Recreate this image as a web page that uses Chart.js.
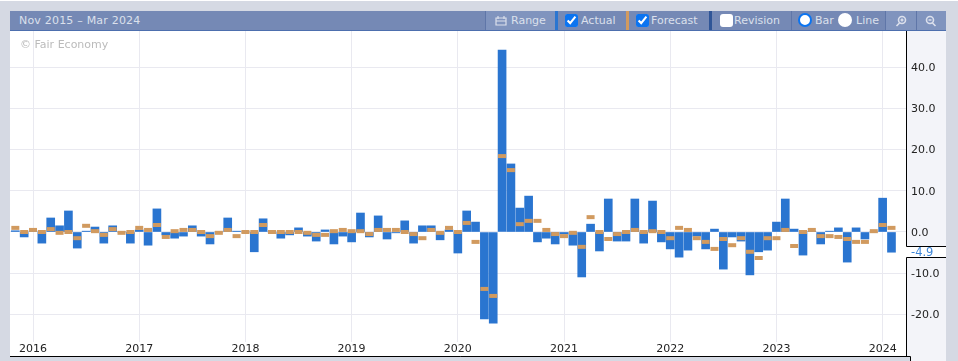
<!DOCTYPE html>
<html>
<head>
<meta charset="utf-8">
<script src="https://cdn.jsdelivr.net/npm/chart.js@4"></script>
<style>
    html, body { margin: 0; padding: 0; background: #d5d9e3; overflow: hidden; }
    body { width: 958px; height: 361px; position: relative; font-family: "DejaVu Sans", sans-serif; }
    #topline { position: absolute; left: 0; top: 0; width: 958px; height: 1px; background: #fff; }
    #header { position: absolute; left: 10px; top: 11px; width: 936px; height: 19px; background: #7589b5; border-bottom: 1px solid #4d6fae; color: #dbe0ec; font-size: 11px; }
    #header span, #header input, #header svg, #header i, #header b { position: absolute; }
    #header span { top: 3px; white-space: nowrap; }
    #header i { top: 0; height: 19px; width: 1px; background: #5f76a8; }
    #header b { top: 0; height: 19px; background: #8094be; }
    #header input { margin: 0; top: 3px; width: 13px; height: 13px; accent-color: #0b74f0; }
    #header input.off { appearance: none; background: #fff; border-radius: 3px; }
    #header input.dot { appearance: none; box-sizing: border-box; width: 14px; height: 14px; top: 2px; background: #fff; border: 2.5px solid #0b74f0; border-radius: 50%; }
    #header input.nodot { appearance: none; width: 14px; height: 14px; top: 2px; background: #fff; border-radius: 50%; }
    #wrap { position: absolute; left: 10px; top: 31px; width: 936px; height: 330px; }
    #chart { display: block; }
    #price { position: absolute; left: 911px; top: 245px; color: #3f86d8; font-size: 11.5px; }
    #copy { position: absolute; left: 20px; top: 38px; color: #bbb; font-size: 11px; }
</style>
</head>
<body>
<div id="topline"></div>
<div id="header">
    <span style="left:9px;letter-spacing:.2px">Nov 2015 – Mar 2024</span>
    <b style="left:475px;width:70px"></b>
    <svg style="left:485px;top:4px" width="12" height="11" viewBox="0 0 12 11"><path d="M1 3h10v7H1zM1 6h10M3 1v3M9 1v3" fill="none" stroke="#dbe0ec" stroke-width="1.2"/></svg>
    <span style="left:501px">Range</span>
    <i style="left:475px"></i>
    <i style="left:545px;width:3px;background:#2a75d0"></i>
    <input type="checkbox" checked style="left:555px">
    <span style="left:571px">Actual</span>
    <i style="left:616px;width:3px;background:#d19a5f"></i>
    <input type="checkbox" checked style="left:626px">
    <span style="left:641px">Forecast</span>
    <i style="left:699px;width:3px;background:#2f5597"></i>
    <input type="checkbox" class="off" style="left:710px">
    <span style="left:724px">Revision</span>
    <i style="left:781px"></i>
    <input type="radio" name="t" class="dot" checked style="left:788px">
    <span style="left:805px">Bar</span>
    <input type="radio" name="t" class="nodot" style="left:828px">
    <span style="left:846px">Line</span>
    <b style="left:875px;width:61px"></b>
    <i style="left:875px"></i>
    <i style="left:906px"></i>
    <svg style="left:885px;top:4px" width="12" height="12" viewBox="0 0 12 12"><circle cx="7" cy="5" r="3.5" fill="none" stroke="#dbe0ec" stroke-width="1.6"/><path d="M4.5 8L1.5 11M5.5 5h3M7 3.5v3" stroke="#dbe0ec" stroke-width="1.6"/></svg>
    <svg style="left:915px;top:4px" width="12" height="12" viewBox="0 0 12 12"><circle cx="5" cy="5" r="3.5" fill="none" stroke="#dbe0ec" stroke-width="1.6"/><path d="M7.5 8l3 3M3.5 5h3" stroke="#dbe0ec" stroke-width="1.6"/></svg>
</div>
<div id="wrap"><canvas id="chart" width="936" height="330"></canvas></div>
<div id="copy">© Fair Economy</div>
<div id="price">-4.9</div>
<script>
// months counted from Nov 2015, one bar per month
const months = [
    "Nov 2015", "Dec 2015",
    "Jan 2016", "Feb 2016", "Mar 2016", "Apr 2016", "May 2016", "Jun 2016", "Jul 2016", "Aug 2016", "Sep 2016", "Oct 2016", "Nov 2016", "Dec 2016",
    "Jan 2017", "Feb 2017", "Mar 2017", "Apr 2017", "May 2017", "Jun 2017", "Jul 2017", "Aug 2017", "Sep 2017", "Oct 2017", "Nov 2017", "Dec 2017",
    "Jan 2018", "Feb 2018", "Mar 2018", "Apr 2018", "May 2018", "Jun 2018", "Jul 2018", "Aug 2018", "Sep 2018", "Oct 2018", "Nov 2018", "Dec 2018",
    "Jan 2019", "Feb 2019", "Mar 2019", "Apr 2019", "May 2019", "Jun 2019", "Jul 2019", "Aug 2019", "Sep 2019", "Oct 2019", "Nov 2019", "Dec 2019",
    "Jan 2020", "Feb 2020", "Mar 2020", "Apr 2020", "May 2020", "Jun 2020", "Jul 2020", "Aug 2020", "Sep 2020", "Oct 2020", "Nov 2020", "Dec 2020",
    "Jan 2021", "Feb 2021", "Mar 2021", "Apr 2021", "May 2021", "Jun 2021", "Jul 2021", "Aug 2021", "Sep 2021", "Oct 2021", "Nov 2021", "Dec 2021",
    "Jan 2022", "Feb 2022", "Mar 2022", "Apr 2022", "May 2022", "Jun 2022", "Jul 2022", "Aug 2022", "Sep 2022", "Oct 2022", "Nov 2022", "Dec 2022",
    "Jan 2023", "Feb 2023", "Mar 2023", "Apr 2023", "May 2023", "Jun 2023", "Jul 2023", "Aug 2023", "Sep 2023", "Oct 2023", "Nov 2023", "Dec 2023",
    "Jan 2024", "Feb 2024"
];
const actual = [
    0.3, -1.2, 0.2, -2.7, 3.4, 1.5, 5.1, -3.9, 0.2, 1.2, -2.7, 1.5, 0.0, -2.7, 0.5, -3.2, 5.6, -0.7, -1.5, -1.0,
    1.5, -1.0, -2.9, 0.0, 3.4, 0.2, 0.0, -4.8, 3.2, 0.0, -1.5, -0.7, 1.0, -1.0, -2.2, 0.5, -2.9, -1.0, -2.4, 4.6,
    -1.2, 3.9, -1.7, -0.2, 2.7, -2.7, 1.5, 1.5, -1.9, 0.5, -5.1, 5.1, 2.4, -21.1, -22.1, 44.1, 16.5, 5.8, 8.7, -2.4,
    -1.5, -2.9, -0.5, -3.2, -10.9, 1.9, -4.6, 8.0, -2.2, -2.2, 8.0, -2.7, 7.5, -2.4, -4.1, -6.1, -4.4, -1.0, -4.1, 0.7,
    -9.0, -1.2, -2.2, -10.4, -4.8, -4.4, 2.4, 8.0, 0.7, -5.6, 0.2, -2.9, 0.2, 1.0, -7.3, 1.0, -1.7, 0.0, 8.2, -4.9
];
const forecast = [
    1.0, 0.0, 0.5, 0.0, 0.7, -0.2, 0.0, -1.5, 1.5, 0.2, -0.7, 0.7, -0.2, 0.0, 1.0, 0.5, 1.7, -1.2, 0.2, 0.5,
    0.5, 0.0, -1.0, -0.2, 0.5, -1.0, 0.0, 0.0, 1.7, 0.0, 0.0, 0.0, 0.0, -0.2, -0.7, -0.7, 0.2, 0.5, 0.2, 0.2,
    -0.5, 0.5, 0.5, 0.5, 0.0, -0.5, -1.5, 0.5, -0.2, 1.0, 0.0, 2.2, -2.4, -13.8, -15.5, 18.4, 15.0, 1.9, 2.7, 2.7,
    0.5, -0.5, -1.0, -0.2, -3.6, 3.6, 0.0, -1.7, -0.5, 0.0, 0.5, 0.0, 0.2, 0.0, -1.5, 1.0, 0.5, -1.5, -2.4, -4.1,
    -1.7, -3.2, -1.5, -4.8, -6.3, -1.5, -1.5, 0.5, -3.4, 0.0, 0.5, -1.0, -1.0, -1.2, -1.7, -2.4, -2.4, 0.2, 1.7, 1.0
];
const yTicks = [-20, -10, 0, 10, 20, 30, 40];
const yearLabels = ["Jan 2016", "Jan 2017", "Jan 2018", "Jan 2019", "Jan 2020", "Jan 2021", "Jan 2022", "Jan 2023", "Jan 2024"];

const colorActual = "#2a75d0";
const colorForecast = "#d19a5f";
const gridColor = "#e9e9f0";

// white plot and the pale price panel behind the right axis
const panels = {
    id: "panels",
    beforeDraw(chart) {
        const c = chart.ctx, right = chart.chartArea.right, h = chart.height;
        const w = 40, base = 325;
        c.save();
        c.fillStyle = "#fff";
        c.fillRect(0, 0, right, base);
        c.fillRect(right, 215, w, 11);
        c.fillStyle = "#f3f4f9";
        c.fillRect(right, 0, w, 215);
        c.fillRect(right, 226, w, base - 226);
        c.fillRect(right + 4, base, w - 4, h - base);
        c.strokeStyle = "#000";
        c.lineWidth = 1;
        c.beginPath();
        c.moveTo(right + 0.5, 0);
        c.lineTo(right + 0.5, 215.5);
        c.lineTo(right + w, 215.5);
        c.moveTo(right + w, 226.5);
        c.lineTo(right + 0.5, 226.5);
        c.lineTo(right + 0.5, base);
        c.moveTo(0, base + 0.5);
        c.lineTo(right + 4.5, base + 0.5);
        c.lineTo(right + 4.5, h);
        c.stroke();
        c.restore();
    }
};

new Chart(document.getElementById("chart"), {
    type: "bar",
    data: {
        datasets: [
            {
                type: "line",
                label: "Forecast",
                data: forecast.map((v, i) => ({ x: i, y: v })),
                showLine: false,
                pointStyle: "line",
                pointRadius: 4,
                pointHoverRadius: 4,
                pointBorderWidth: 4,
                pointBorderColor: colorForecast,
                order: 0,
            },
            {
                label: "Actual",
                data: actual.map((v, i) => ({ x: i, y: v })),
                backgroundColor: colorActual,
                barThickness: 8,
                order: 1,
            },
        ]
    },
    plugins: [panels],
    options: {
        responsive: false,
        animation: false,
        events: [],
        layout: { autoPadding: false },
        plugins: { legend: { display: false }, tooltip: { enabled: false } },
        scales: {
            x: {
                type: "linear",
                offset: false,
                min: -0.6,
                max: 100.64,
                grid: { color: gridColor, lineWidth: 1, drawTicks: false, offset: false },
                border: { display: false },
                afterBuildTicks(scale) {
                    scale.ticks = yearLabels.map(m => ({ value: months.indexOf(m) }));
                },
                ticks: {
                    autoSkip: false,
                    maxRotation: 0,
                    padding: 1,
                    color: "#222",
                    font: { family: "DejaVu Sans", size: 11 },
                    callback: v => months[v].slice(4),
                },
                afterFit(scale) {
                    scale.height = 19;
                    scale.paddingLeft = 0;
                    scale.paddingRight = 0;
                },
            },
            y: {
                position: "right",
                min: -26.67,
                max: 48.73,
                grid: { color: gridColor, lineWidth: 1, drawTicks: false },
                border: { display: false },
                afterBuildTicks(scale) {
                    scale.ticks = yTicks.map(v => ({ value: v }));
                },
                ticks: {
                    padding: 5,
                    labelOffset: 1,
                    color: "#222",
                    font: { family: "DejaVu Sans", size: 11 },
                    callback: v => v.toFixed(1),
                },
                afterFit(scale) {
                    scale.width = 40;
                    scale.paddingTop = 0;
                    scale.paddingBottom = 0;
                },
            }
        }
    }
});
</script>
</body>
</html>
